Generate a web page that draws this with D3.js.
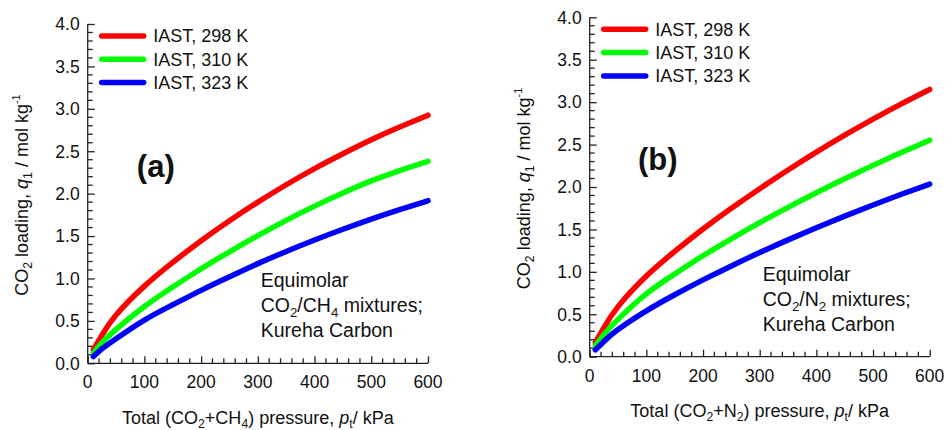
<!DOCTYPE html>
<html>
<head>
<meta charset="utf-8">
<script src="https://cdn.jsdelivr.net/npm/d3@7"></script>
<style>
  body { margin: 0; background: #fff; }
  svg { display: block; font-family: "Liberation Sans", Arial, Helvetica, sans-serif; }
</style>
</head>
<body>
<svg id="chart" width="947" height="430"></svg>
<script>
// Total pressure of the equimolar mixture, kPa
const pressures = [10, 25, 50, 100, 150, 200, 250, 300, 350, 400, 450, 500, 550, 600];

// Legend labels for the three temperatures
const seriesLabels = ["IAST, 298 K", "IAST, 310 K", "IAST, 323 K"];
const seriesColors = ["#ff0000", "#00ff00", "#0000ff"];

// (a) CO2/CH4 mixtures: CO2 loading, mol/kg
const ch4Mix298 = [0.16, 0.33, 0.57, 0.91, 1.19, 1.445, 1.68, 1.90, 2.105, 2.295, 2.47, 2.635, 2.785, 2.925];
const ch4Mix310 = [0.12, 0.24, 0.40, 0.67, 0.90, 1.115, 1.315, 1.505, 1.685, 1.853, 2.008, 2.15, 2.272, 2.38];
const ch4Mix323 = [0.08, 0.17, 0.29, 0.51, 0.69, 0.86, 1.02, 1.175, 1.318, 1.453, 1.58, 1.70, 1.812, 1.917];

// (b) CO2/N2 mixtures: CO2 loading, mol/kg
const n2Mix298 = [0.17, 0.34, 0.59, 0.95, 1.24, 1.505, 1.75, 1.98, 2.20, 2.41, 2.61, 2.80, 2.98, 3.15];
const n2Mix310 = [0.13, 0.26, 0.44, 0.74, 0.975, 1.19, 1.39, 1.58, 1.76, 1.932, 2.097, 2.255, 2.407, 2.552];
const n2Mix323 = [0.08, 0.18, 0.32, 0.54, 0.73, 0.905, 1.07, 1.227, 1.377, 1.52, 1.657, 1.788, 1.914, 2.034];

// Axis ticks
const xTickValues = [0, 100, 200, 300, 400, 500, 600];
const yTickValues = [0, 0.5, 1.0, 1.5, 2.0, 2.5, 3.0, 3.5, 4.0];
const xMinorStep = 20;
const yMinorStep = 0.1;

// Rich text pieces: [text, kind] where kind is "", "sub", "sup" or "i"
const yTitleParts = [["CO", ""], ["2", "sub"], [" loading, ", ""], ["q", "i"], ["1", "sub"], [" / mol kg", ""], ["-1", "sup"]];
const panels = [
  {
    tag: "(a)",
    series: [ch4Mix298, ch4Mix310, ch4Mix323],
    xTitle: [["Total (CO", ""], ["2", "sub"], ["+CH", ""], ["4", "sub"], [") pressure, ", ""], ["p", "i"], ["t", "sub"], ["/ kPa", ""]],
    note: [[["Equimolar", ""]], [["CO", ""], ["2", "sub"], ["/CH", ""], ["4", "sub"], [" mixtures;", ""]], [["Kureha Carbon", ""]]],
    frame: { left: 87.7, right: 428, bottom: 363.3, top: 24 }
  },
  {
    tag: "(b)",
    series: [n2Mix298, n2Mix310, n2Mix323],
    xTitle: [["Total (CO", ""], ["2", "sub"], ["+N", ""], ["2", "sub"], [") pressure, ", ""], ["p", "i"], ["t", "sub"], ["/ kPa", ""]],
    note: [[["Equimolar", ""]], [["CO", ""], ["2", "sub"], ["/N", ""], ["2", "sub"], [" mixtures;", ""]], [["Kureha Carbon", ""]]],
    frame: { left: 589.7, right: 929.7, bottom: 356.7, top: 17.3 }
  }
];

const svg = d3.select("#chart");
const ink = "#111";

function richText(sel, parts, size) {
  parts.forEach(([txt, kind]) => {
    const t = sel.append("tspan").text(txt);
    if (kind === "sub") {
      t.attr("font-size", size * 0.68).attr("baseline-shift", -size * 0.24);
    } else if (kind === "sup") {
      t.attr("font-size", size * 0.6).attr("baseline-shift", size * 0.45);
    } else if (kind === "i") {
      t.attr("font-style", "italic");
    }
  });
}

panels.forEach(panel => {
  const f = panel.frame;
  const x = d3.scaleLinear().domain([0, 600]).range([f.left, f.right]);
  const y = d3.scaleLinear().domain([0, 4]).range([f.bottom, f.top]);
  const g = svg.append("g");

  // Minor ticks
  const xMinor = d3.range(0, 600 + 1e-9, xMinorStep).filter(v => v % 100 !== 0);
  const yMinor = d3.range(0, 4 + 1e-9, yMinorStep).map(v => +v.toFixed(1)).filter(v => Math.abs(v * 2 - Math.round(v * 2)) > 1e-6);

  // Bottom axis: ticks point into the plot
  const xAxis = d3.axisBottom(x).tickValues(xTickValues).tickSize(-7).tickPadding(0).tickFormat(d3.format("d"));
  const gx = g.append("g").attr("transform", `translate(0,${f.bottom})`).call(xAxis);
  gx.select(".domain").attr("d", `M${f.left},0H${f.right}`);
  gx.selectAll(".tick text").remove();
  gx.selectAll(".minor").data(xMinor).enter().append("line")
    .attr("x1", d => x(d)).attr("x2", d => x(d)).attr("y1", 0).attr("y2", -5);

  // Left axis
  const yAxis = d3.axisLeft(y).tickValues(yTickValues).tickSize(-7).tickFormat(d3.format(".1f"));
  const gy = g.append("g").attr("transform", `translate(${f.left},0)`).call(yAxis);
  gy.select(".domain").attr("d", `M0,${f.bottom}V${f.top}`);
  gy.selectAll(".tick text").remove();
  gy.selectAll(".minor").data(yMinor).enter().append("line")
    .attr("x1", 0).attr("x2", 5).attr("y1", d => y(d)).attr("y2", d => y(d));

  g.selectAll("line, path.domain").attr("stroke", "#222").attr("stroke-width", 1.3);

  // Tick labels
  g.selectAll(".xlab").data(xTickValues).enter().append("text")
    .attr("x", d => x(d)).attr("y", f.bottom + 25)
    .attr("text-anchor", "middle").attr("font-size", 17.5).attr("fill", ink)
    .text(d3.format("d"));
  g.selectAll(".ylab").data(yTickValues).enter().append("text")
    .attr("x", f.left - 8).attr("y", d => y(d)).attr("dy", "0.36em")
    .attr("text-anchor", "end").attr("font-size", 17.5).attr("fill", ink)
    .text(d3.format(".1f"));

  // Axis titles
  const xt = g.append("text")
    .attr("x", (f.left + f.right) / 2).attr("y", f.bottom + 60.5)
    .attr("text-anchor", "middle").attr("font-size", 18).attr("fill", ink);
  richText(xt, panel.xTitle, 18);

  const yt = g.append("text")
    .attr("transform", `translate(${f.left - 60},${(f.top + f.bottom) / 2 + 1.5}) rotate(-90)`)
    .attr("text-anchor", "middle").attr("font-size", 18).attr("fill", ink);
  richText(yt, yTitleParts, 18);

  // Curves
  const line = d3.line().x((d, i) => x(pressures[i])).y(d => y(d)).curve(d3.curveNatural);
  panel.series.forEach((vals, k) => {
    g.append("path").datum(vals)
      .attr("d", line)
      .attr("fill", "none")
      .attr("stroke", seriesColors[k])
      .attr("stroke-width", 5.5)
      .attr("stroke-linecap", "round")
      .attr("stroke-linejoin", "round");
  });

  // Legend
  seriesLabels.forEach((lab, k) => {
    const ly = f.top + 12 + k * 23.3;
    g.append("line")
      .attr("x1", f.left + 14).attr("x2", f.left + 56)
      .attr("y1", ly).attr("y2", ly)
      .attr("stroke", seriesColors[k]).attr("stroke-width", 5.5).attr("stroke-linecap", "round");
    g.append("text")
      .attr("x", f.left + 65.6).attr("y", ly).attr("dy", "0.36em")
      .attr("font-size", 18).attr("fill", ink).text(lab);
  });

  // Panel tag
  g.append("text")
    .attr("x", x(120)).attr("y", y(2.2))
    .attr("text-anchor", "middle").attr("font-size", 31).attr("font-weight", "bold")
    .attr("fill", ink).text(panel.tag);

  // Annotation block
  panel.note.forEach((parts, k) => {
    const t = g.append("text")
      .attr("x", f.left + 173).attr("y", f.bottom - 76 + k * 25)
      .attr("font-size", 19.5).attr("fill", ink);
    richText(t, parts, 19.5);
  });
});
</script>
</body>
</html>
